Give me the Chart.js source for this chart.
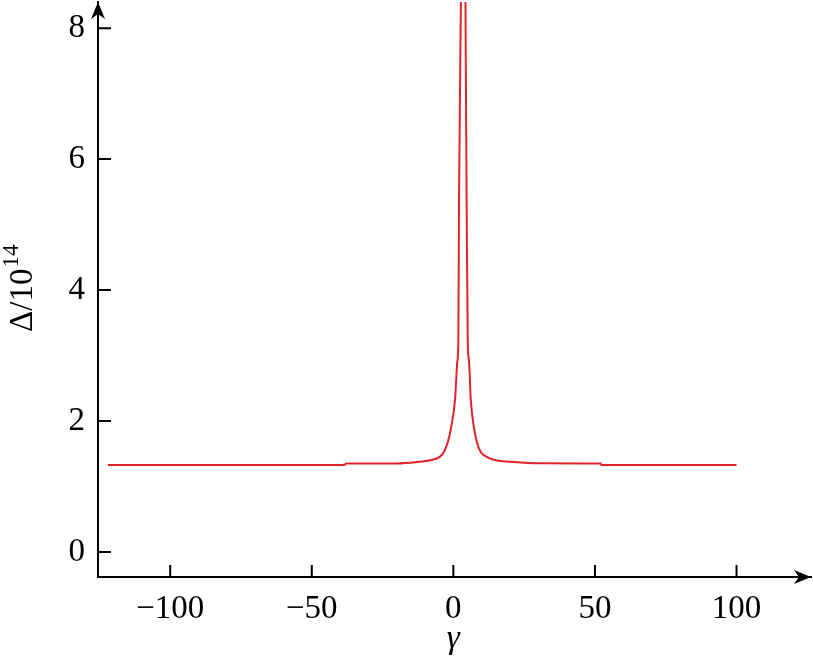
<!DOCTYPE html>
<html>
<head>
<meta charset="utf-8">
<script src="https://cdn.jsdelivr.net/npm/chart.js@4.4.1/dist/chart.umd.min.js"></script>
<style>
  html, body { margin: 0; padding: 0; background: #fff; }
  #wrap { width: 813px; height: 665px; position: relative; }
</style>
</head>
<body>
<div id="wrap"><canvas id="deltaChart"></canvas></div>
<script>
// ================= DATA =================
const gammaValues = [-122, -60, -38.4, -38.0, -20, -11.8, -8.2, -4.7, -3.3, -1.9, -0.7, 0.6, 1.4, 1.76, 2.01, 2.72,
                     3.5,
                     4.24, 4.73, 5.08, 5.54, 6.14, 7.2, 8.26, 9.6, 11.6, 15, 20, 30, 52, 52.3, 100];
const deltaValues = [1.329, 1.329, 1.329, 1.349, 1.352, 1.379, 1.40, 1.456, 1.53, 1.686, 1.92, 2.33, 2.91, 3.22, 5.46, 8.6,
                     null,
                     8.6, 5.07, 3.22, 2.91, 2.33, 1.92, 1.686, 1.53, 1.456, 1.40, 1.379, 1.355, 1.349, 1.329, 1.329];
const xTicks = [-100, -50, 0, 50, 100];
const yTicks = [0, 2, 4, 6, 8];

const FONT = "'Liberation Serif', 'Times New Roman', serif";
const points = gammaValues.map((g, i) => ({ x: g, y: deltaValues[i] }));

function fmt(v) {
    return v < 0 ? "\u2212" + Math.abs(v) : String(v);
}

// ticks pointing inward, arrowheads and axis titles
const axisDecor = {
    id: "axisDecor",
    afterDraw(chart) {
        const { ctx, chartArea: a, scales: { x, y } } = chart;
        ctx.save();
        ctx.strokeStyle = "#000";
        ctx.fillStyle = "#000";
        ctx.lineWidth = 2;

        ctx.beginPath();
        xTicks.forEach(v => {
            const px = x.getPixelForValue(v);
            ctx.moveTo(px, a.bottom);
            ctx.lineTo(px, a.bottom - 12);
        });
        yTicks.forEach(v => {
            const py = y.getPixelForValue(v);
            ctx.moveTo(a.left, py);
            ctx.lineTo(a.left + 13, py);
        });
        ctx.stroke();

        // x arrow
        ctx.beginPath();
        ctx.moveTo(a.right, a.bottom);
        ctx.lineTo(a.right - 17, a.bottom - 7);
        ctx.lineTo(a.right - 12, a.bottom);
        ctx.lineTo(a.right - 17, a.bottom + 7);
        ctx.closePath();
        ctx.fill();

        // y arrow
        ctx.beginPath();
        ctx.moveTo(a.left, a.top);
        ctx.lineTo(a.left - 7, a.top + 17);
        ctx.lineTo(a.left, a.top + 12);
        ctx.lineTo(a.left + 7, a.top + 17);
        ctx.closePath();
        ctx.fill();

        // x title
        ctx.font = "italic 33px " + FONT;
        ctx.textAlign = "center";
        ctx.textBaseline = "alphabetic";
        ctx.fillText("\u03b3", x.getPixelForValue(0), 648);

        // y title, rotated, with superscript
        ctx.translate(32, 332);
        ctx.rotate(-Math.PI / 2);
        ctx.textAlign = "left";
        ctx.font = "33px " + FONT;
        const main = "\u0394/10";
        ctx.fillText(main, 0, 0);
        const w = ctx.measureText(main).width;
        ctx.font = "23px " + FONT;
        ctx.fillText("14", w + 1, -14);

        ctx.restore();
    }
};

const ctx = document.getElementById("deltaChart").getContext("2d");
new Chart(ctx, {
    type: "line",
    data: {
        datasets: [{
            data: points,
            borderColor: "#e0232b",
            borderWidth: 2,
            pointRadius: 0,
            fill: false,
            cubicInterpolationMode: "monotone",
            spanGaps: false,
        }]
    },
    options: {
        responsive: true,
        maintainAspectRatio: false,
        animation: false,
        layout: { padding: { top: 2, right: 2, left: 0, bottom: 0 } },
        plugins: {
            legend: { display: false },
            tooltip: { enabled: false },
        },
        scales: {
            x: {
                type: "linear",
                min: -125.5,
                max: 126.3,
                afterFit(scale) {
                    scale.height = 88;
                    scale.paddingLeft = 0;
                    scale.paddingRight = 0;
                },
                afterBuildTicks(scale) { scale.ticks = xTicks.map(v => ({ value: v })); },
                grid: { drawOnChartArea: false, drawTicks: false },
                border: { color: "#000", width: 2 },
                ticks: {
                    padding: 13,
                    color: "#000",
                    font: { family: FONT, size: 33 },
                    maxRotation: 0,
                    callback: v => fmt(v),
                },
            },
            y: {
                type: "linear",
                min: -0.383,
                max: 8.40,
                afterFit(scale) {
                    scale.width = 98;
                    scale.paddingTop = 0;
                    scale.paddingBottom = 0;
                },
                afterBuildTicks(scale) { scale.ticks = yTicks.map(v => ({ value: v })); },
                grid: { drawOnChartArea: false, drawTicks: false },
                border: { color: "#000", width: 2 },
                ticks: {
                    padding: 13,
                    color: "#000",
                    font: { family: FONT, size: 33 },
                    callback: v => fmt(v),
                },
            },
        },
    },
    plugins: [axisDecor],
});
</script>
</body>
</html>
